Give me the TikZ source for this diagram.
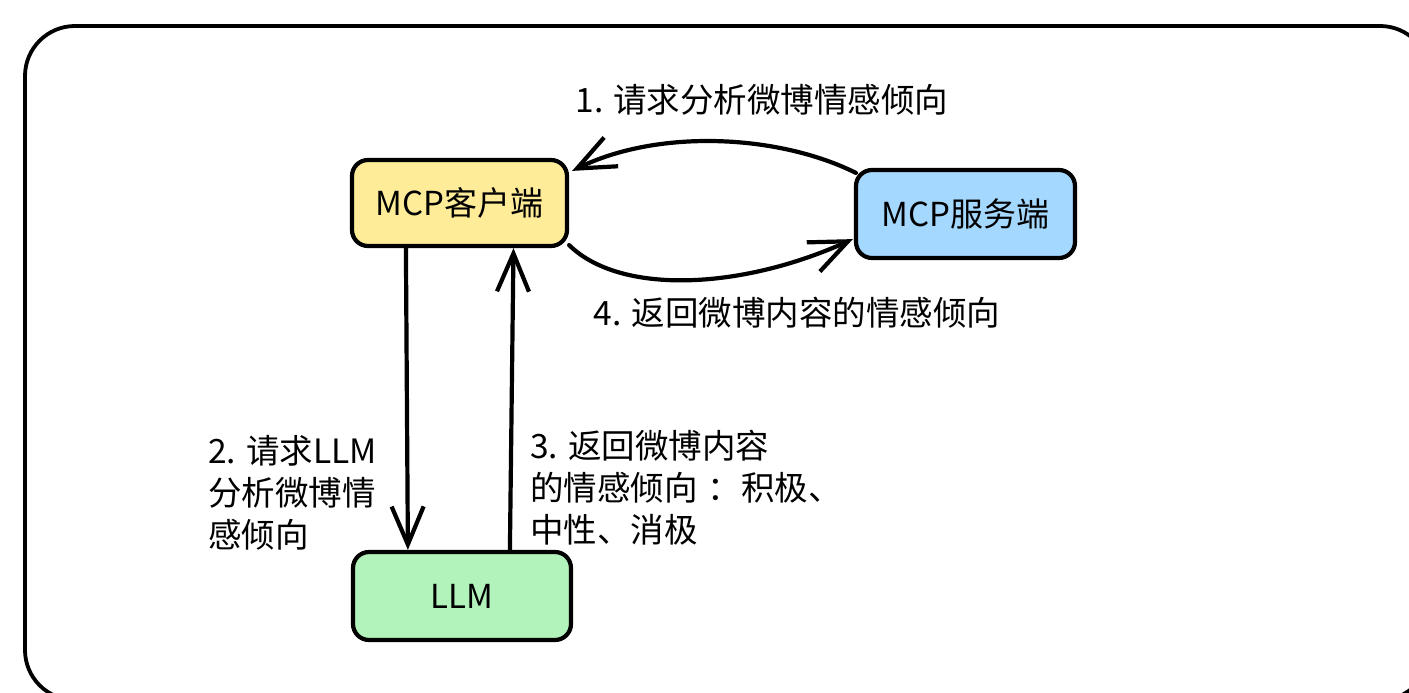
\documentclass[tikz,border=0pt]{standalone}
\usepackage{fontspec}
\setmainfont{Noto Sans CJK SC}
\usetikzlibrary{arrows.meta}
\definecolor{cliY}{HTML}{FFEC99}
\definecolor{srvB}{HTML}{A5D8FF}
\definecolor{llmG}{HTML}{B2F2BB}
\begin{document}
\begin{tikzpicture}[x=1pt,y=-1pt,
  box/.style={draw=black, line width=4.2pt, rounded corners=16pt, inner sep=0pt,
    font=\fontsize{33}{38}\selectfont},
  conn/.style={line width=4.2pt, line cap=round, line join=round,
    -{Straight Barb[length=38pt,width=32pt]}},
  lbl/.style={font=\fontsize{33.5}{42}\selectfont, inner sep=0pt, align=left}]
\useasboundingbox (0,0) rectangle (1409,693);
\clip (0,0) rectangle (1409,693);
\draw[line width=3.8pt, rounded corners=50pt] (25,26) rectangle (1430,700);

\node[box, fill=cliY, minimum width=215pt, minimum height=86pt] (cli) at (459.5,203) {MCP客户端};
\node[box, fill=srvB, minimum width=219pt, minimum height=88pt] (srv) at (965.5,214) {MCP服务端};
\node[box, fill=llmG, minimum width=218pt, minimum height=88pt] (llm) at (462,596) {LLM};

\draw[conn] ([xshift=2pt,yshift=-5pt]srv.north west) .. controls (780,135) and (660,128) .. ([xshift=3pt,yshift=-13pt]cli.north east);
\draw[conn] ([yshift=3pt]cli.south east) .. controls (620,295) and (740,290) .. ([xshift=-1pt,yshift=21pt]srv.south west);
\draw[conn] ([xshift=56pt]cli.south west) -- ([xshift=57pt]llm.north west);
\draw[conn] ([xshift=159pt]llm.north west) -- ([xshift=54pt]cli.south);

\node[lbl] (l1) at (762,100) {1. 请求分析微博情感倾向};
\node[lbl] (l4) at (797,313) {4. 返回微博内容的情感倾向};
\node[lbl, anchor=north west] (l2) at (208,435) {2. 请求LLM\\分析微博情\\感倾向};
\node[lbl, anchor=north west] (l3) at (530,430) {3. 返回微博内容\\的情感倾向\hspace{0.3em}：积极、\\中性、消极};
\end{tikzpicture}
\end{document}
